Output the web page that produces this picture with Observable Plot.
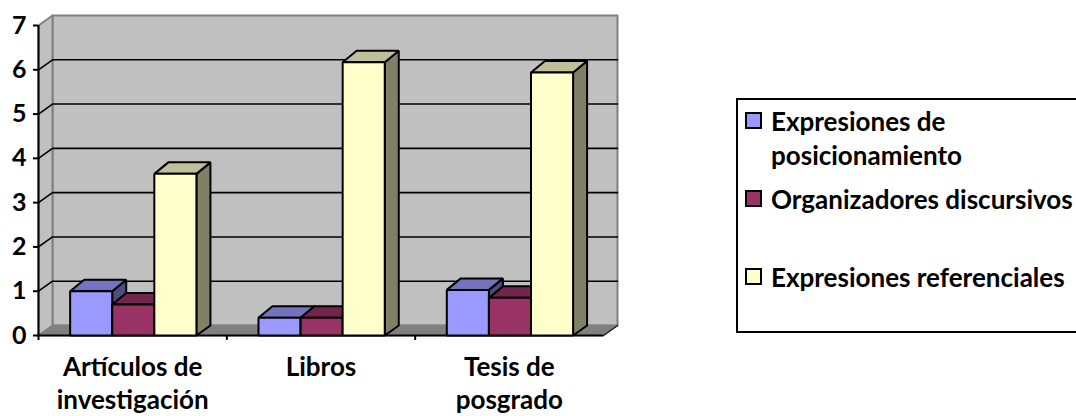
<!DOCTYPE html>
<html>
<head>
<meta charset="utf-8">
<script src="https://cdn.jsdelivr.net/npm/d3@7"></script>
<script src="https://cdn.jsdelivr.net/npm/@observablehq/plot@0.6"></script>
<style>
html,body{margin:0;padding:0;background:#fff;overflow:hidden}
#wrap{position:relative;width:1076px;height:416px;overflow:hidden;font-family:Lato,sans-serif;font-weight:700;color:#000}
#legend{position:absolute;left:736px;top:98px;width:400px;height:235px;border:2px solid #000;box-sizing:border-box}
.sw{position:absolute;left:6.5px;width:17px;height:17px;border:2px solid #000;box-sizing:border-box}
.lb{position:absolute;left:33px;font-size:26px;line-height:26px;white-space:nowrap}
</style>
</head>
<body>
<div id="wrap"><div id="legend"></div></div>
<script>
const categories = ["Artículos de\ninvestigación", "Libros", "Tesis de\nposgrado"];
const seriesNames = ["Expresiones de\nposicionamiento", "Organizadores discursivos", "Expresiones referenciales"];
const posicionamiento = [1.0, 0.4, 1.03];
const organizadores = [0.7, 0.4, 0.85];
const referenciales = [3.65, 6.17, 5.94];
const yTicks = [0, 1, 2, 3, 4, 5, 6, 7];
const frontColors = ["#9999ff", "#993366", "#ffffcc"];
const topColors = ["#7373bf", "#73264d", "#bfbf99"];
const sideColors = ["#4d4d80", "#4d1a33", "#808066"];

const series = [posicionamiento, organizadores, referenciales];
const W = 1076, H = 416, mL = 38, mR = 473, mT = 25, mB = 81;
// depth of the pseudo-3D box, in data units
const depthX = 14 / ((W - mL - mR) / 3);
const depthY = 10 / ((H - mT - mB) / 7);
const barDepthY = 11.5 / ((H - mT - mB) / 7);
const barStart = 0.168, barWidth = 0.2235;

const polys = [];
let id = 0;
function poly(points, fill) {
  const z = id++;
  for (const [x, y] of points) polys.push({x, y, z, fill});
}
categories.forEach((c, i) => {
  series.forEach((vals, s) => {
    const x0 = i + barStart + s * barWidth, x1 = x0 + barWidth, v = vals[i];
    poly([[x1, 0], [x1 + depthX, depthY], [x1 + depthX, v + barDepthY], [x1, v]], sideColors[s]);
    poly([[x0, v], [x0 + depthX, v + barDepthY], [x1 + depthX, v + barDepthY], [x1, v]], topColors[s]);
    poly([[x0, 0], [x1, 0], [x1, v], [x0, v]], frontColors[s]);
  });
});

const wall = [
  {x: depthX, y: depthY}, {x: 3 + depthX, y: depthY},
  {x: 3 + depthX, y: 7 + depthY}, {x: depthX, y: 7 + depthY}
];
const leftWall = [
  {x: 0, y: 0}, {x: depthX, y: depthY}, {x: depthX, y: 7 + depthY}, {x: 0, y: 7}
];
const floor = [
  {x: 0, y: 0}, {x: depthX, y: depthY}, {x: 3 + depthX, y: depthY}, {x: 3, y: 0}
];
const floorEdge = [{x: 3, y: 0}, {x: 3 + depthX, y: depthY}];
const gridBack = yTicks.slice(1, -1).flatMap(v => [
  {x: 0, y: v, z: v}, {x: depthX, y: v + depthY, z: v}, {x: 3 + depthX, y: v + depthY, z: v}
]);

const chart = Plot.plot({
  width: W, height: H,
  marginLeft: mL, marginRight: mR, marginTop: mT, marginBottom: mB,
  style: {background: "#fff", fontFamily: "Lato, sans-serif", overflow: "visible"},
  x: {domain: [0, 3]},
  y: {domain: [0, 7]},
  marks: [
    Plot.line(wall, {x: "x", y: "y", curve: "linear-closed", fill: "#c0c0c0", stroke: "#808080", strokeWidth: 2}),
    Plot.line(leftWall, {x: "x", y: "y", curve: "linear-closed", fill: "#c0c0c0", stroke: "#808080", strokeWidth: 2}),
    Plot.line(floor, {x: "x", y: "y", curve: "linear-closed", fill: "#808080", stroke: "#808080", strokeWidth: 1.5}),
    Plot.line(floorEdge, {x: "x", y: "y", stroke: "#222", strokeWidth: 1.5}),
    Plot.line(gridBack, {x: "x", y: "y", z: "z", stroke: "#000", strokeWidth: 1.6}),
    Plot.ruleY([0], {stroke: "#000", strokeWidth: 2}),
    Plot.ruleX([0], {stroke: "#000", strokeWidth: 2}),
    Plot.line(polys, {x: "x", y: "y", z: "z", fill: d => d.fill, stroke: "#000", strokeWidth: 2, curve: "linear-closed", strokeLinejoin: "miter"}),
    Plot.axisY({ticks: yTicks, tickSize: 5, tickPadding: 7, fontSize: 25, fontWeight: 700, stroke: "#000", strokeWidth: 2, fill: "#000", tickFormat: d => String(d), label: null}),
    Plot.axisX({ticks: [0, 1, 2], tickSize: 5, tickFormat: () => "", stroke: "#000", strokeWidth: 2, label: null}),
    Plot.text(categories, {x: (d, i) => i + 0.5, y: () => 0, text: d => d, dy: 17, lineAnchor: "top", lineHeight: 1.28, fontSize: 26, fontWeight: 700, fill: "#000"})
  ]
});
document.getElementById("wrap").prepend(chart);

const legend = document.getElementById("legend");
const swatchTop = [12, 90, 168];
const labelTop = [[8, 42], [86], [164]];
seriesNames.forEach((name, s) => {
  const sw = document.createElement("div");
  sw.className = "sw";
  sw.style.top = swatchTop[s] + "px";
  sw.style.background = frontColors[s];
  legend.append(sw);
  name.split("\n").forEach((line, k) => {
    const t = document.createElement("div");
    t.className = "lb";
    t.style.top = labelTop[s][k] + "px";
    t.textContent = line;
    legend.append(t);
  });
});
</script>
</body>
</html>
